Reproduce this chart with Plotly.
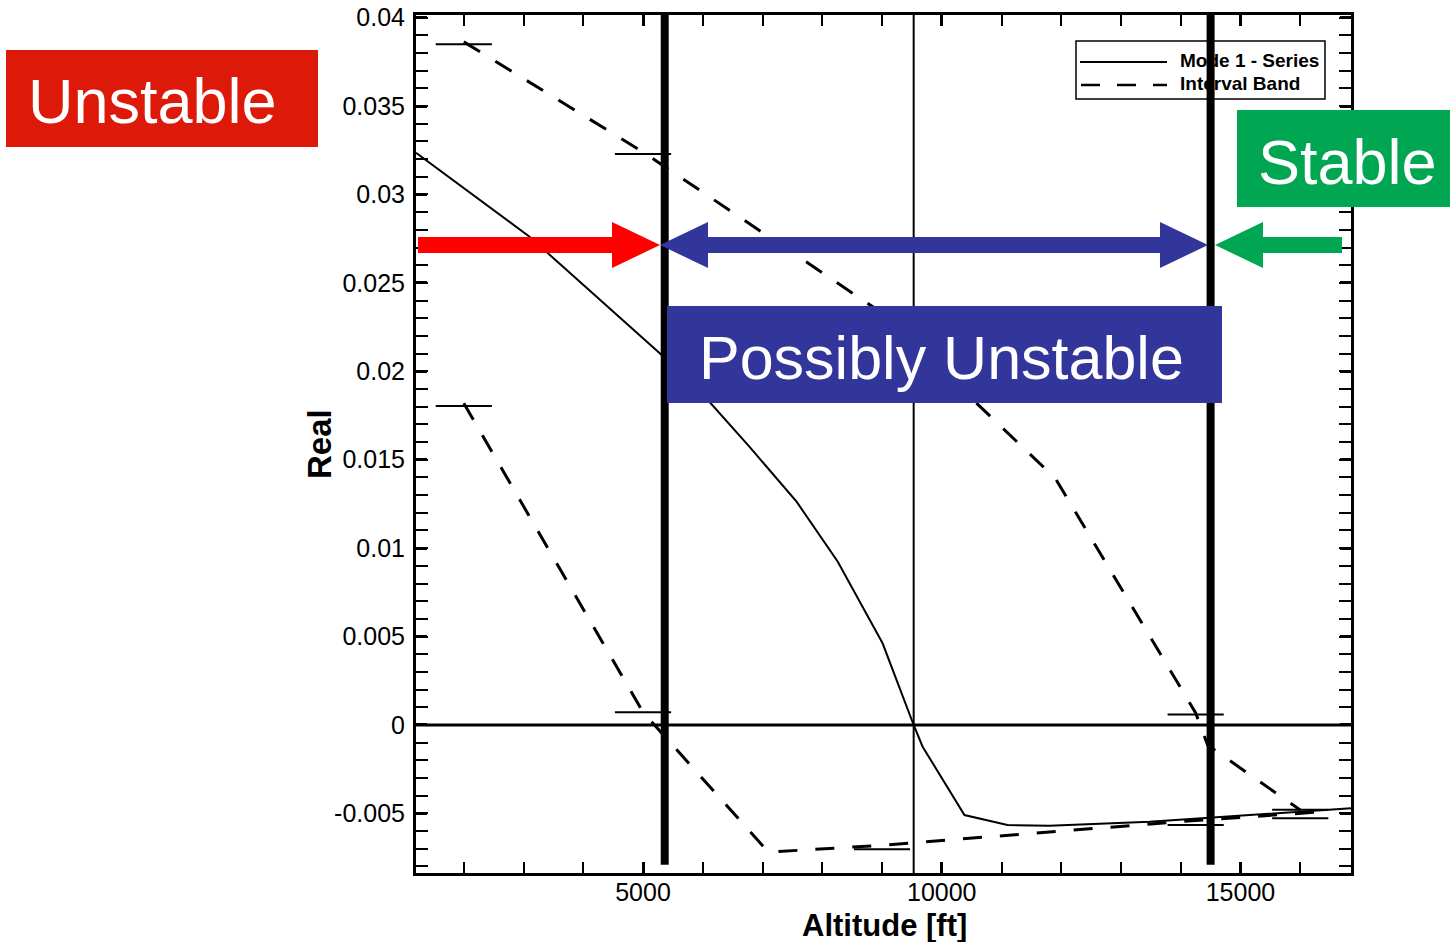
import plotly.graph_objects as go

# ---- data: real part of mode 1 vs altitude ----
alt_series = [1200, 3100, 5280, 6110, 6780, 7570, 8260, 9010, 9530, 9680, 10380, 11100, 11800, 13480, 16850]
real_series = [0.03236, 0.02761, 0.02102, 0.01828, 0.01574, 0.01263, 0.00923, 0.00462, 0.0,
               -0.00123, -0.00509, -0.00566, -0.00570, -0.00547, -0.00471]

# interval band (upper / lower bounds)
alt_upper = [2000, 5000, 9000, 11900, 14250, 14450, 16000]
real_upper = [0.03863, 0.03240, 0.02330, 0.01395, 0.00068, -0.00113, -0.00481]

alt_lower = [2000, 5000, 7100, 9000, 12000, 14250, 16400]
real_lower = [0.01819, 0.00072, -0.00719, -0.00680, -0.00600, -0.00540, -0.00490]

# interval evaluation points (drawn as horizontal bars)
cap_alt = [2000, 2000, 5000, 5000, 9000, 9000, 14250, 14250, 16000, 16000]
cap_real = [0.03849, 0.01804, 0.03229, 0.00072, 0.02330, -0.00702, 0.00060, -0.00566, -0.00480, -0.00528]
cap_halfwidth = 470

# stability boundaries and neutral-stability altitude
stability_bounds = [5363, 14500]
neutral_alt = 9530

x_range = [1200, 16850]
y_range = [-0.00837, 0.04015]
x_tick_vals = [5000, 10000, 15000]
x_tick_text = ["5000", "10000", "15000"]
y_tick_vals = [-0.005, 0, 0.005, 0.01, 0.015, 0.02, 0.025, 0.03, 0.035, 0.04]
y_tick_text = ["-0.005", "0", "0.005", "0.01", "0.015", "0.02", "0.025", "0.03", "0.035", "0.04"]

legend_labels = ["Mode 1 - Series", "Interval Band"]

FONT = "Liberation Sans, Arial, Helvetica, sans-serif"
RED_BOX = "#DD1A0A"
RED_ARROW = "#FF0000"
BLUE = "#32359A"
GREEN = "#00A651"

# ---- page geometry (pixels) ----
W, H = 1450, 942
L, R, T, B = 416, 1351, 15, 873


def pxx(x):
    return (x - L) / (R - L)


def pxy(y):
    return (B - y) / (B - T)


def data_x(x):
    return x_range[0] + (x - L) / (R - L) * (x_range[1] - x_range[0])


def data_y(y):
    return y_range[0] + (B - y) / (B - T) * (y_range[1] - y_range[0])


def poly(points):
    pts = [f"{pxx(x):.5f},{pxy(y):.5f}" for x, y in points]
    return "M " + " L ".join(pts) + " Z"


fig = go.Figure()

fig.add_trace(go.Scatter(x=alt_series, y=real_series, mode="lines",
                         line=dict(color="black", width=2), showlegend=False, hoverinfo="skip"))
fig.add_trace(go.Scatter(x=alt_upper, y=real_upper, mode="lines",
                         line=dict(color="black", width=3, dash="19px,18px"), showlegend=False, hoverinfo="skip"))
fig.add_trace(go.Scatter(x=alt_lower, y=real_lower, mode="lines",
                         line=dict(color="black", width=3, dash="19px,18px"), showlegend=False, hoverinfo="skip"))
fig.add_trace(go.Scatter(x=cap_alt, y=cap_real, mode="markers",
                         marker=dict(size=1, color="black", opacity=0),
                         error_x=dict(type="constant", value=cap_halfwidth, width=0, thickness=2, color="black"),
                         showlegend=False, hoverinfo="skip"))

# legend entries
fig.add_trace(go.Scatter(x=[data_x(1180), data_x(1180)], y=[data_y(62), data_y(85)], mode="text",
                         text=legend_labels, textposition="middle right", cliponaxis=False,
                         textfont=dict(family=FONT, size=19, color="black", weight=700),
                         showlegend=False, hoverinfo="skip"))

shapes = []
# zero line and neutral altitude
shapes.append(dict(type="line", xref="x", yref="y", x0=x_range[0], x1=x_range[1], y0=0, y1=0,
                   line=dict(color="black", width=3), layer="above"))
shapes.append(dict(type="line", xref="x", yref="y", x0=neutral_alt, x1=neutral_alt,
                   y0=y_range[0], y1=y_range[1], line=dict(color="black", width=2), layer="above"))
# legend frame and samples
shapes.append(dict(type="rect", xref="paper", yref="paper", x0=pxx(1076), x1=pxx(1325), y0=pxy(99), y1=pxy(41),
                   line=dict(color="black", width=1.5), layer="above"))
shapes.append(dict(type="line", xref="paper", yref="paper", x0=pxx(1080), x1=pxx(1167), y0=pxy(62), y1=pxy(62),
                   line=dict(color="black", width=2), layer="above"))
shapes.append(dict(type="line", xref="paper", yref="paper", x0=pxx(1081), x1=pxx(1167), y0=pxy(85), y1=pxy(85),
                   line=dict(color="black", width=2.5, dash="19px,17px"), layer="above"))
# stability boundaries
for xb in stability_bounds:
    shapes.append(dict(type="line", xref="x", yref="y", x0=xb, x1=xb, y0=-0.0079, y1=y_range[1],
                       line=dict(color="black", width=8), layer="above"))

# arrows
ay, sh, hh = 245, 8, 23
shapes.append(dict(type="path", xref="paper", yref="paper", layer="above", fillcolor=RED_ARROW,
                   line=dict(width=0),
                   path=poly([(418, ay - sh), (612, ay - sh), (612, ay - hh), (660, ay), (612, ay + hh),
                              (612, ay + sh), (418, ay + sh)])))
shapes.append(dict(type="path", xref="paper", yref="paper", layer="above", fillcolor=BLUE,
                   line=dict(width=0),
                   path=poly([(660, ay), (708, ay - hh), (708, ay - sh), (1160, ay - sh), (1160, ay - hh),
                              (1208, ay), (1160, ay + hh), (1160, ay + sh), (708, ay + sh), (708, ay + hh)])))
shapes.append(dict(type="path", xref="paper", yref="paper", layer="above", fillcolor=GREEN,
                   line=dict(width=0),
                   path=poly([(1215, ay), (1263, ay - hh), (1263, ay - sh), (1342, ay - sh), (1342, ay + sh),
                              (1263, ay + sh), (1263, ay + hh)])))

# region boxes
boxes = [
    ((6, 50, 318, 147), RED_BOX, "Unstable", 152, 63),
    ((1237, 110, 1450, 207), GREEN, "Stable", 1347, 63),
    ((667, 306, 1222, 403), BLUE, "Possibly Unstable", 941, 61),
]
annotations = []
for (x0, y0, x1, y1), col, label, tx, fs in boxes:
    shapes.append(dict(type="rect", xref="paper", yref="paper", x0=pxx(x0), x1=pxx(x1), y0=pxy(y1), y1=pxy(y0),
                       fillcolor=col, line=dict(width=0), layer="above"))
    annotations.append(dict(text=label, xref="paper", yref="paper", x=pxx(tx), y=pxy((y0 + y1) / 2 + 3),
                            xanchor="center", yanchor="middle", showarrow=False,
                            font=dict(family=FONT, size=fs, color="white")))

# axis titles
annotations.append(dict(text="<b>Altitude [ft]</b>", xref="paper", yref="paper", x=pxx(884), y=pxy(925),
                        xanchor="center", yanchor="middle", showarrow=False,
                        font=dict(family=FONT, size=31, color="black")))
annotations.append(dict(text="<b>Real</b>", xref="paper", yref="paper", x=pxx(319), y=pxy(444),
                        xanchor="center", yanchor="middle", showarrow=False, textangle=-90,
                        font=dict(family=FONT, size=33, color="black")))

axis_common = dict(showgrid=False, zeroline=False, showline=True, linecolor="black", linewidth=3,
                   mirror="allticks", ticks="inside", ticklen=11, tickwidth=2.5, tickcolor="black",
                   automargin=False,
                   tickfont=dict(family=FONT, size=25, color="black"))

fig.update_layout(
    width=W, height=H, autosize=False,
    margin=dict(l=L, r=W - R, t=T, b=H - B, pad=0, autoexpand=False),
    paper_bgcolor="white", plot_bgcolor="white",
    showlegend=False,
    shapes=shapes, annotations=annotations,
    xaxis=dict(range=x_range, tickmode="array", tickvals=x_tick_vals, ticktext=x_tick_text,
               minor=dict(tickmode="linear", tick0=0, dtick=1000, ticks="inside", ticklen=11,
                          tickwidth=1.5, tickcolor="black"),
               ticklabelstandoff=-5, **axis_common),
    yaxis=dict(range=y_range, tickmode="array", tickvals=y_tick_vals, ticktext=y_tick_text,
               minor=dict(tickmode="linear", tick0=0, dtick=0.001, ticks="inside", ticklen=12,
                          tickwidth=1.5, tickcolor="black"),
               ticklabelstandoff=3, **axis_common),
)

fig.write_html("out.html")
